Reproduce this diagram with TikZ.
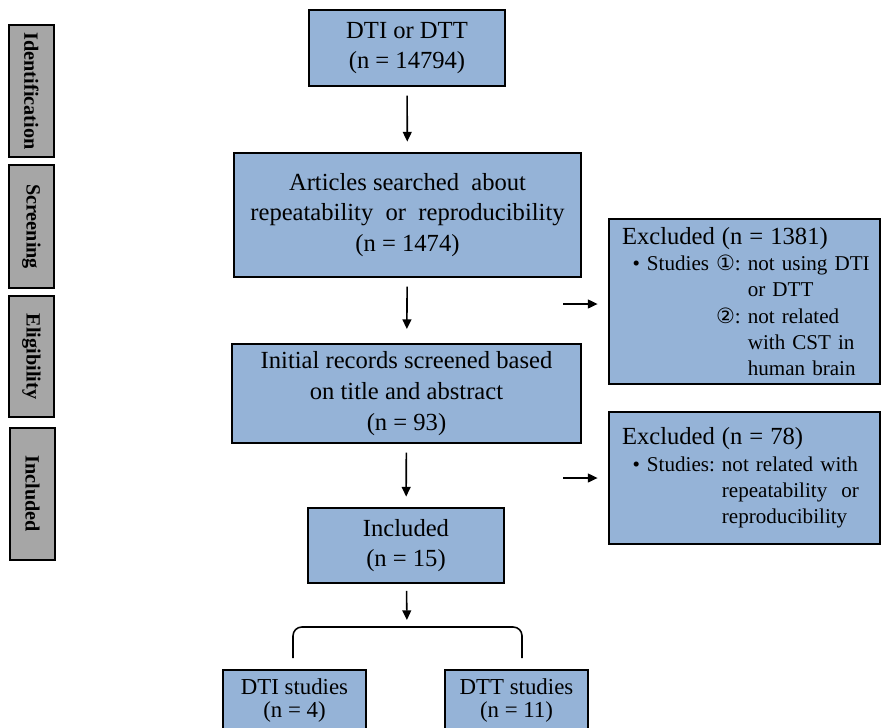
\documentclass[tikz,border=0pt]{standalone}
\usepackage{fontspec}
\setmainfont{Liberation Serif}
\newfontfamily\circfont{DejaVu Sans}
\usetikzlibrary{arrows.meta}
\definecolor{boxblue}{RGB}{149,179,215}
\definecolor{stagegray}{RGB}{166,166,166}
\tikzset{
  flowbox/.style={draw=black,line width=1pt,fill=boxblue,align=center,inner sep=1pt,font=\fontsize{14}{17.5}\selectfont},
  exclbox/.style={draw=black,line width=1pt,fill=boxblue,align=left,text width=4.9cm,inner xsep=0.26cm,font=\fontsize{12}{15}\selectfont},
  stagebox/.style={draw=black,line width=1.3pt,fill=stagegray,rotate=-90,minimum height=0.9cm,inner sep=0pt,font=\fontsize{11.5}{13}\selectfont\bfseries},
  flowarrow/.style={-{Triangle[length=5.5pt,width=5pt]},line width=0.9pt,shorten <=5pt,shorten >=6pt}
}
\begin{document}
\frenchspacing
\begin{tikzpicture}[x=0.02cm,y=-0.02cm]
\useasboundingbox (0,0) rectangle (882,727);

\node[stagebox,minimum width=2.64cm] (idt) at (31.5,91) {Identification};
\node[stagebox,minimum width=2.46cm] (scr) at (31.5,226.5) {Screening};
\node[stagebox,minimum width=2.42cm] (elg) at (31.5,356.5) {Eligibility};
\node[stagebox,minimum width=2.64cm] (inc) at (32.5,494) {Included};

\node[flowbox,minimum width=3.92cm,minimum height=1.52cm] (dti) at (407,48) {DTI or DTT\\(n = 14794)};
\node[flowbox,minimum width=6.94cm,minimum height=2.48cm] (art) at (407.5,215) {Articles searched~ about\\repeatability~ or~ reproducibility\\(n = 1474)};
\node[flowbox,minimum width=6.98cm,minimum height=1.98cm] (scn) at (406.5,393.5) {Initial records screened based\\on title and abstract\\(n = 93)};
\node[flowbox,minimum width=3.92cm,minimum height=1.5cm] (incl) at (406,545.5) {Included\\(n = 15)};

\node[flowbox,font=\fontsize{13}{13}\selectfont,minimum width=2.86cm,minimum height=1.6cm,anchor=north] (dtis) at (294.5,669) {DTI studies\\(n = 4)\\\mbox{}};
\node[flowbox,font=\fontsize{13}{13}\selectfont,minimum width=2.86cm,minimum height=1.6cm,anchor=north] (dtts) at (516.5,669) {DTT studies\\(n = 11)\\\mbox{}};

\node[exclbox,minimum height=3.3cm] (ex1) at (744.5,301.5) {%
  \mbox{\fontsize{14}{17}\selectfont Excluded (n = 1381)}\\
  \mbox{\hspace*{6pt}• Studies {\circfont ①}: not using DTI}\\
  \mbox{\hspace*{6pt}\phantom{• Studies {\circfont ①}: }or DTT}\\
  \mbox{\hspace*{6pt}\phantom{• Studies }{\circfont ②}: not related}\\
  \mbox{\hspace*{6pt}\phantom{• Studies {\circfont ①}: }with CST in}\\
  \mbox{\hspace*{6pt}\phantom{• Studies {\circfont ①}: }human brain}};
\node[exclbox,minimum height=2.64cm] (ex2) at (744.5,478) {%
  \mbox{\fontsize{14}{17}\selectfont Excluded (n = 78)}\\
  \mbox{\hspace*{6pt}• Studies: not related with}\\
  \mbox{\hspace*{6pt}\phantom{• Studies: }repeatability~ or}\\
  \mbox{\hspace*{6pt}\phantom{• Studies: }reproducibility}};

\draw[flowarrow] (dti) -- (art);
\draw[flowarrow,shorten >=8pt] (art) -- (scn);
\draw[flowarrow] (scn) -- (incl);

\coordinate (brtop) at (407,627);
\coordinate (brl) at (293,658);
\coordinate (brr) at (522,658);
\draw[flowarrow,shorten <=4pt,shorten >=4pt] (incl) -- (brtop);
\draw[line width=0.9pt,rounded corners=5pt] (brl) |- (brtop) -| (brr);

\coordinate (x1) at (563,304);
\coordinate (x2) at (563,478);
\draw[flowarrow,shorten <=0pt] (x1) -- (x1 -| ex1.west);
\draw[flowarrow,shorten <=0pt] (x2) -- (x2 -| ex2.west);
\end{tikzpicture}
\end{document}
